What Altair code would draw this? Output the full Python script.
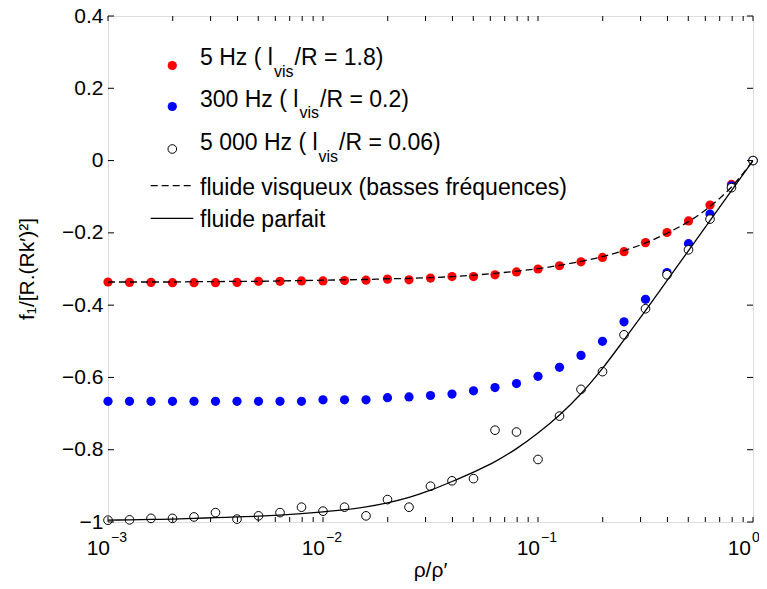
import altair as alt
import pandas as pd

# ---------------- data ----------------
rho_ratio = [0.001, 0.001259, 0.001585, 0.001995, 0.002512, 0.003162, 0.003981,
             0.005012, 0.00631, 0.007943, 0.01, 0.01259, 0.01585, 0.01995,
             0.02512, 0.03162, 0.03981, 0.05012, 0.0631, 0.07943, 0.1, 0.1259,
             0.1585, 0.1995, 0.2512, 0.3162, 0.3981, 0.5012, 0.631, 0.7943, 1.0]

f1_5hz = [-0.336, -0.337, -0.337, -0.338, -0.338, -0.338, -0.337, -0.334, -0.334,
          -0.333, -0.333, -0.332, -0.331, -0.328, -0.330, -0.325, -0.321, -0.321,
          -0.316, -0.308, -0.300, -0.291, -0.280, -0.268, -0.252, -0.227, -0.199,
          -0.167, -0.123, -0.066, 0.0]

f1_300hz = [-0.666, -0.666, -0.666, -0.666, -0.666, -0.666, -0.666, -0.666, -0.666,
            -0.666, -0.662, -0.662, -0.662, -0.656, -0.654, -0.650, -0.646, -0.637,
            -0.628, -0.617, -0.597, -0.572, -0.539, -0.500, -0.446, -0.384, -0.310,
            -0.230, -0.148, -0.070, 0.0]

f1_5000hz = [-0.995, -0.994, -0.990, -0.990, -0.986, -0.974, -0.992, -0.983, -0.974,
             -0.959, -0.970, -0.959, -0.983, -0.938, -0.959, -0.901, -0.886, -0.880,
             -0.746, -0.751, -0.827, -0.707, -0.633, -0.584, -0.482, -0.410, -0.316,
             -0.247, -0.162, -0.075, 0.0]

visqueux = [-0.336, -0.336, -0.336, -0.336, -0.335, -0.335, -0.334, -0.334, -0.333,
            -0.332, -0.331, -0.330, -0.329, -0.327, -0.326, -0.324, -0.321, -0.317,
            -0.312, -0.306, -0.299, -0.290, -0.279, -0.266, -0.249, -0.228, -0.201,
            -0.169, -0.127, -0.073, 0.0]

parfait = [-0.995, -0.994, -0.993, -0.992, -0.990, -0.988, -0.986, -0.984, -0.981,
           -0.977, -0.972, -0.966, -0.958, -0.947, -0.932, -0.912, -0.888, -0.862,
           -0.833, -0.797, -0.754, -0.704, -0.645, -0.575, -0.496, -0.415, -0.332,
           -0.249, -0.166, -0.083, 0.0]

y_ticks = [-1, -0.8, -0.6, -0.4, -0.2, 0, 0.2, 0.4]
x_major = [0.001, 0.01, 0.1, 1.0]
x_exponents = ["\u22123", "\u22122", "\u22121", "0"]
x_minor = [0.002, 0.003, 0.004, 0.005, 0.006, 0.007, 0.008, 0.009,
           0.02, 0.03, 0.04, 0.05, 0.06, 0.07, 0.08, 0.09,
           0.2, 0.3, 0.4, 0.5, 0.6, 0.7, 0.8, 0.9]

legend_main = ["5 Hz ( l", "300 Hz ( l", "5 000 Hz ( l"]
legend_sub = ["vis", "vis", "vis"]
legend_tail = ["/R = 1.8)", "/R = 0.2)", "/R = 0.06)"]
legend_lines = ["fluide visqueux (basses fr\u00e9quences)", "fluide parfait"]

# ---------------- layout ----------------
W, H = 645, 506
FONT = "Liberation Sans"

df = pd.DataFrame({"rho": rho_ratio, "f5": f1_5hz, "f300": f1_300hz,
                   "f5000": f1_5000hz, "visq": visqueux, "parf": parfait})

xs = alt.Scale(type="log", domain=[0.001, 1], nice=False)
ys = alt.Scale(domain=[-1, 0.4], nice=False, zero=False)
yaxis = alt.Axis(values=y_ticks, format=".1~f", title=None, ticks=False, domain=False,
                 grid=False, labelFont=FONT, labelFontSize=21, labelColor="black",
                 labelPadding=5)
X = lambda f: alt.X(f, type="quantitative", scale=xs, axis=None)
Y = lambda f: alt.Y(f, type="quantitative", scale=ys, axis=yaxis)

base = alt.Chart(df)

red = base.mark_circle(color="#ff0000", size=85, opacity=1).encode(x=X("rho"), y=Y("f5"))
blue = base.mark_circle(color="#0000ff", size=85, opacity=1).encode(x=X("rho"), y=Y("f300"))
hollow = base.mark_point(shape="circle", filled=True, fill="white", stroke="black",
                         strokeWidth=1, size=75, opacity=1).encode(x=X("rho"), y=Y("f5000"))
line_visq = base.mark_line(color="black", strokeWidth=1.3, strokeDash=[7, 4],
                           interpolate="monotone").encode(x=X("rho"), y=Y("visq"))
line_parf = base.mark_line(color="black", strokeWidth=1.3,
                           interpolate="monotone").encode(x=X("rho"), y=Y("parf"))

# inward ticks (box style)
ydf = pd.DataFrame({"v": y_ticks})
xdf = pd.DataFrame({"v": x_major + x_minor})
tick_style = dict(color="black", strokeWidth=1)
yt_left = alt.Chart(ydf).mark_rule(**tick_style).encode(
    y=Y("v"), x=alt.value(0), x2=alt.value(6))
yt_right = alt.Chart(ydf).mark_rule(**tick_style).encode(
    y=Y("v"), x=alt.value(W - 6), x2=alt.value(W))
xt_bot = alt.Chart(xdf).mark_rule(**tick_style).encode(
    x=X("v"), y=alt.value(H - 5), y2=alt.value(H))
xt_top = alt.Chart(xdf).mark_rule(**tick_style).encode(
    x=X("v"), y=alt.value(0), y2=alt.value(5))

# x tick labels 10^k (the last one nudged left so it stays inside the canvas)
xl = pd.DataFrame({"v": x_major, "base": ["10"] * 4, "exp": x_exponents})
xl_in = xl.iloc[:3]
xl_end = xl.iloc[3:]


def xlabels(d, shift):
    b = alt.Chart(d).mark_text(align="right", baseline="alphabetic", font=FONT,
                               fontSize=21, color="black", dx=2 + shift).encode(
        x=X("v"), y=alt.value(H + 33), text="base:N")
    e = alt.Chart(d).mark_text(align="left", baseline="alphabetic", font=FONT,
                               fontSize=14, color="black", dx=3 + shift).encode(
        x=X("v"), y=alt.value(H + 20), text="exp:N")
    return [b, e]


one = pd.DataFrame({"a": [0]})


def txt(s, x, y, size=23, align="left", angle=0):
    return alt.Chart(one).mark_text(text=s, align=align, baseline="alphabetic",
                                    font=FONT, fontSize=size, color="black",
                                    angle=angle).encode(x=alt.value(x), y=alt.value(y))


# axis titles
xtitle = txt("\u03c1/\u03c1\u2032", W / 2, H + 55, size=21, align="center")
ytitle = txt("f\u2081/[R.(Rk\u2032)\u00b2]", -74, H / 2, size=21, align="center", angle=270)

# custom legend (positions relative to plot's top-left corner)
layers_leg = []
mx = 64.3
layers_leg.append(alt.Chart(one).mark_circle(color="#ff0000", size=85, opacity=1).encode(
    x=alt.value(mx), y=alt.value(49.5)))
layers_leg.append(alt.Chart(one).mark_circle(color="#0000ff", size=85, opacity=1).encode(
    x=alt.value(mx), y=alt.value(90.5)))
layers_leg.append(alt.Chart(one).mark_point(shape="circle", filled=True, fill="white",
                                            stroke="black", strokeWidth=1, size=75,
                                            opacity=1).encode(
    x=alt.value(mx), y=alt.value(133)))
layers_leg.append(alt.Chart(one).mark_rule(color="black", strokeWidth=1.3,
                                           strokeDash=[7, 4]).encode(
    x=alt.value(42.7), x2=alt.value(85.3), y=alt.value(169.7)))
layers_leg.append(alt.Chart(one).mark_rule(color="black", strokeWidth=1.3).encode(
    x=alt.value(42.7), x2=alt.value(85.3), y=alt.value(202.3)))

row_base = [49, 90.7, 134]
row_sub = [60.5, 102, 145.5]
row_b = [166, 191.5, 210.5]
row_c = [186.5, 212, 231]
for i in range(3):
    layers_leg.append(txt(legend_main[i], 92, row_base[i]))
    layers_leg.append(txt(legend_sub[i], row_b[i], row_sub[i], size=16))
    layers_leg.append(txt(legend_tail[i], row_c[i], row_base[i]))
layers_leg.append(txt(legend_lines[0], 92, 178.5))
layers_leg.append(txt(legend_lines[1], 92, 211))

chart = alt.layer(
    red, blue, hollow, line_visq, line_parf,
    yt_left, yt_right, xt_bot, xt_top,
    *xlabels(xl_in, 0), *xlabels(xl_end, -4), xtitle, ytitle,
    *layers_leg
).properties(
    width=W, height=H,
    autosize=alt.AutoSizeParams(type="none"),
    padding={"left": 100, "top": 8, "right": 6, "bottom": 59},
).configure_view(
    stroke="black", strokeWidth=1.2
).configure(background="white")

chart.save("out.html", embed_options={"renderer": "svg", "actions": False})
